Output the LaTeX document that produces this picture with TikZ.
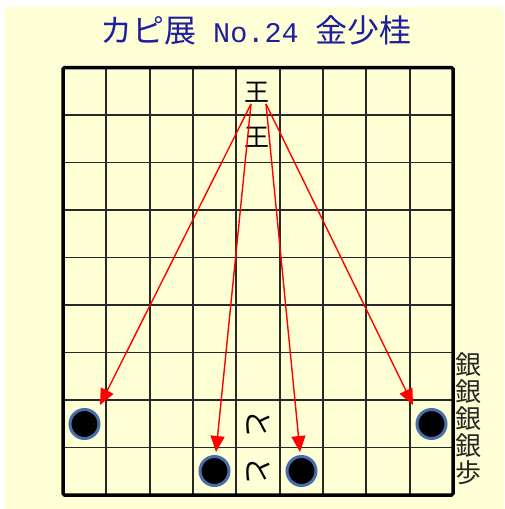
\documentclass[tikz,border=0pt]{standalone}
\usepackage{fontspec}
\newfontfamily\jp{Noto Sans CJK JP}
\newfontfamily\mono{Liberation Mono}
\usetikzlibrary{arrows.meta}
\definecolor{cream}{RGB}{255,255,214}
\definecolor{navy}{RGB}{30,30,160}
\definecolor{ring}{RGB}{70,110,170}
\definecolor{ink}{RGB}{40,40,40}
\tikzset{
  grid/.style={line width=1.8pt, draw=ink},
  frame/.style={line width=3.5pt, draw=black, rounded corners=1.5pt},
  piece/.style={font=\jp\fontsize{25}{25}\selectfont, inner sep=0pt, text=black},
  sidepiece/.style={font=\jp\fontsize{29}{29}\selectfont, inner sep=0pt, text=black, rotate=-90},
  stone/.style={circle, fill=black, draw=ring, line width=3pt, minimum size=29pt, inner sep=0pt},
  mv/.style={draw=red, line width=1.4pt, -{Triangle[length=16pt,width=14pt]}},
}
\begin{document}
\begin{tikzpicture}[x=1pt,y=-1pt]
\useasboundingbox (0,0) rectangle (504,509);
\fill[white] (0,0) rectangle (504,509);
\fill[cream] (5,7) rectangle (504,509);
\node[font=\jp\fontsize{32}{32}\selectfont, text=navy, inner sep=0pt] (title) at (256,30) {カピ展{\mono\fontsize{28.5}{28.5}\selectfont\ No.24\ }金少桂};
% grid
\foreach \i in {1,...,8} {
  \draw[grid] ({63+\i*43.33},67.5) -- ({63+\i*43.33},495);
  \draw[grid] (63,{67.5+\i*47.5}) -- (453,{67.5+\i*47.5});
}
\draw[frame] (63,67.5) rectangle (453,495);
% pieces
\node[piece] (k1) at (257,92) {王};
\node[piece] (k2) at (257,137) {王};
\node[sidepiece] (t1) at (258,424) {と};
\node[sidepiece] (t2) at (258,471) {と};
% stones
\node[stone] (s1) at (84.5,424) {};
\node[stone] (s2) at (214.5,471) {};
\node[stone] (s3) at (301.5,471) {};
\node[stone] (s4) at (431.5,424) {};
% arrow ends
\coordinate (kl) at (251,104);
\coordinate (kr) at (266,104);
\coordinate (e1) at (100,405);
\coordinate (e2) at (216,452);
\coordinate (e3) at (300,452);
\coordinate (e4) at (413,405);
\draw[mv] (kl) -- (e1);
\draw[mv] (kl) -- (e2);
\draw[mv] (kr) -- (e3);
\draw[mv] (kr) -- (e4);
% hand pieces
\node[font=\jp\fontsize{26}{27}\selectfont, text=ink, align=center, inner sep=0pt, anchor=north] (hand) at (468,352) {銀\\銀\\銀\\銀\\歩};
\end{tikzpicture}
\end{document}
